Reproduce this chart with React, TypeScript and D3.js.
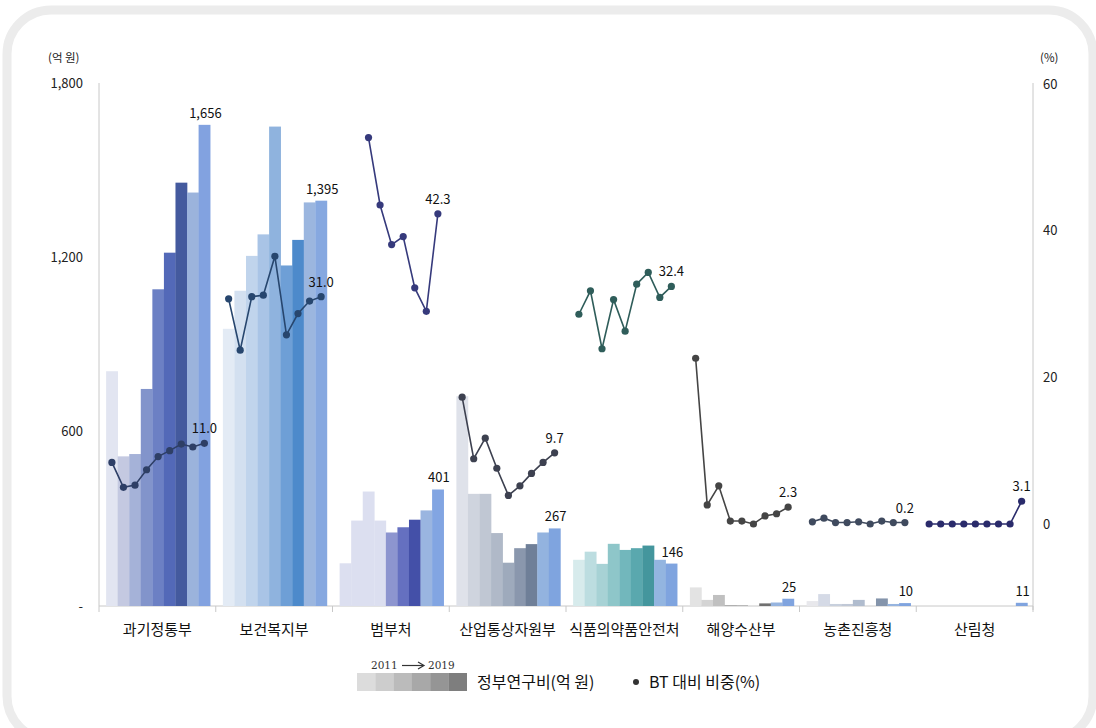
import * as d3 from "d3";

const years = ["2011", "2012", "2013", "2014", "2015", "2016", "2017", "2018", "2019"];

const categories = [
  "과기정통부",
  "보건복지부",
  "범부처",
  "산업통상자원부",
  "식품의약품안전처",
  "해양수산부",
  "농촌진흥청",
  "산림청",
];

// 정부연구비 (억 원), 2011 -> 2019
const fundMSIT = [808, 515, 523, 747, 1090, 1216, 1457, 1423, 1656];
const fundMOHW = [954, 1085, 1205, 1279, 1650, 1172, 1260, 1389, 1395];
const fundJoint = [147, 294, 394, 294, 253, 271, 297, 329, 401];
const fundMOTIE = [722, 386, 386, 251, 149, 199, 213, 253, 267];
const fundMFDS = [159, 187, 145, 214, 193, 199, 208, 159, 146];
const fundMOF = [64, 21, 38, 3, 2, 0, 9, 12, 25];
const fundRDA = [17, 41, 7, 7, 21, 0, 26, 7, 10];
const fundKFS = [0, 0, 0, 0, 0, 0, 0, 0, 11];

// BT 대비 비중 (%)
const shareMSIT = [8.4, 5.0, 5.3, 7.4, 9.2, 10.0, 10.9, 10.5, 11.0];
const shareMOHW = [30.7, 23.7, 31.0, 31.2, 36.5, 25.8, 28.7, 30.4, 31.0];
const shareJoint = [null, null, 52.7, 43.5, 38.1, 39.2, 32.2, 29.0, 42.3];
const shareMOTIE = [17.3, 8.9, 11.7, 7.6, 3.9, 5.2, 6.9, 8.4, 9.7];
const shareMFDS = [28.6, 31.8, 23.9, 30.6, 26.3, 32.7, 34.3, 30.9, 32.4];
const shareMOF = [22.6, 2.6, 5.2, 0.4, 0.4, 0.0, 1.1, 1.4, 2.3];
const shareRDA = [0.3, 0.8, 0.2, 0.2, 0.3, 0.0, 0.4, 0.2, 0.2];
const shareKFS = [0, 0, 0, 0, 0, 0, 0, 0, 3.1];

const leftTicks = [0, 600, 1200, 1800];
const rightTicks = [0, 20, 40, 60];

const funds = [fundMSIT, fundMOHW, fundJoint, fundMOTIE, fundMFDS, fundMOF, fundRDA, fundKFS];
const shares = [shareMSIT, shareMOHW, shareJoint, shareMOTIE, shareMFDS, shareMOF, shareRDA, shareKFS];

const barColors = [
  ["#e2e5f1", "#c4c9e1", "#a5b2d8", "#8294cb", "#6c80c4", "#5369b8", "#445a9e", "#9bb3dc", "#82a2e0"],
  ["#e3ebf5", "#d3e0f0", "#c0d4ec", "#a9c4e6", "#8fb3de", "#6e9fd6", "#4d8acb", "#9bb6df", "#86a8e0"],
  ["#dcdff0", "#dcdff0", "#dcdff0", "#dcdff0", "#8d95cf", "#6570c0", "#4450a8", "#9ab5e0", "#82a5e2"],
  ["#dfe2ea", "#cfd4de", "#c0c7d3", "#b0b9c8", "#9eaabc", "#8a97ad", "#6f7f98", "#93b3df", "#7fa4df"],
  ["#d7ebec", "#bcdde0", "#a7d2d5", "#8ec6c9", "#72b7bc", "#5aa8ae", "#44969d", "#93b5e0", "#7fa4df"],
  ["#e3e3e3", "#d4d4d4", "#c0c0c0", "#a8a8a8", "#999999", "#888888", "#707070", "#96b4df", "#80a4df"],
  ["#e8e8ec", "#d5dae6", "#c8d0dd", "#c0c8d6", "#b0bcce", "#a0aec4", "#8494ab", "#96b4df", "#80a4df"],
  ["#e8e8ec", "#d5dae6", "#c8d0dd", "#c0c8d6", "#b0bcce", "#a0aec4", "#8494ab", "#96b4df", "#80a4df"],
];
const lineColors = ["#2e3f66", "#27466e", "#363a7c", "#3d4150", "#2f5d5a", "#454545", "#3f4a5e", "#2a2b6b"];
const legendGreys = ["#dcdcdc", "#cdcdcd", "#bbbbbb", "#a8a8a8", "#959595", "#7e7e7e"];

const FONT = "'Noto Sans CJK KR', 'Noto Sans', sans-serif";

export default function App() {
  const W = 1096;
  const H = 728;
  const x0 = 99;
  const x1 = 1033;
  const yTop = 83;
  const yBase = 606;

  const xCat = d3.scaleBand<string>().domain(categories).range([x0, x1]).padding(0);
  const xYear = d3
    .scaleBand<string>()
    .domain(years)
    .range([0, xCat.bandwidth()])
    .paddingInner(0)
    .paddingOuter(0.55)
    .align(0.56);
  const yLeft = d3.scaleLinear().domain([0, 1800]).range([yBase, yTop]);
  const yRight = d3.scaleLinear().domain([0, 60]).range([524, 84]);

  const line = d3
    .line<{ x: number; v: number | null }>()
    .defined((d) => d.v != null)
    .x((d) => d.x)
    .y((d) => yRight(d.v as number));

  const fmtInt = d3.format(",");
  const fmtPct = d3.format(".1f");
  const cx = (ci: number, yi: number) =>
    (xCat(categories[ci]) as number) + (xYear(years[yi]) as number) + xYear.bandwidth() / 2;

  return (
    <svg
      width={W}
      height={H}
      style={{ position: "absolute", left: 0, top: 0, background: "#fff" }}
      fontFamily={FONT}
    >
      <rect x={7} y={10} width={1086} height={730} rx={44} fill="#fff" stroke="#ececec" strokeWidth={9} />

      {/* axis titles */}
      <text x={48} y={62} fontSize={11.5} fill="#222">(억 원)</text>
      <text x={1040} y={62} fontSize={11.5} fill="#222">(%)</text>

      {/* axes */}
      <line x1={x0} x2={x0} y1={yTop} y2={yBase} stroke="#c8c8c8" />
      <line x1={x1} x2={x1} y1={yTop} y2={yBase + 4} stroke="#c8c8c8" />
      <line x1={x0} x2={x1} y1={yBase} y2={yBase} stroke="#c8c8c8" />
      {categories.map((c) => (
        <line key={"t" + c} x1={xCat(c)} x2={xCat(c)} y1={yBase} y2={yBase + 6} stroke="#c8c8c8" />
      ))}
      <line x1={x1} x2={x1} y1={yBase} y2={yBase + 6} stroke="#c8c8c8" />

      {leftTicks.map((t) => (
        <text key={"l" + t} x={83} y={yLeft(t)} dy="0.35em" textAnchor="end" fontSize={13} fill="#222">
          {t === 0 ? "-" : fmtInt(t)}
        </text>
      ))}
      {rightTicks.map((t) => (
        <text key={"r" + t} x={1043} y={yRight(t)} dy="0.35em" fontSize={13} fill="#222">
          {t}
        </text>
      ))}

      {/* bars */}
      {funds.map((vals, ci) =>
        vals.map((v, yi) => (
          <rect
            key={`b${ci}-${yi}`}
            x={(xCat(categories[ci]) as number) + (xYear(years[yi]) as number)}
            width={xYear.bandwidth() + 0.3}
            y={yLeft(v)}
            height={yBase - yLeft(v)}
            fill={barColors[ci][yi]}
          />
        ))
      )}

      {/* bar value labels */}
      {funds.map((vals, ci) => (
        <text
          key={"bl" + ci}
          x={cx(ci, 8) + 1}
          y={yLeft(vals[8]) - 7}
          textAnchor="middle"
          fontSize={13}
          fill="#111"
        >
          {fmtInt(vals[8])}
        </text>
      ))}

      {/* share lines */}
      {shares.map((vals, ci) => {
        const pts = vals.map((v, yi) => ({ x: cx(ci, yi), v }));
        return (
          <g key={"ln" + ci}>
            <path d={line(pts) || ""} fill="none" stroke={lineColors[ci]} strokeWidth={1.6} />
            {pts
              .filter((p) => p.v != null)
              .map((p, i) => (
                <circle key={i} cx={p.x} cy={yRight(p.v as number)} r={3.6} fill={lineColors[ci]} />
              ))}
            <text
              x={pts[8].x}
              y={yRight(pts[8].v as number) - 10}
              textAnchor="middle"
              fontSize={13}
              fill="#111"
            >
              {fmtPct(pts[8].v as number)}
            </text>
          </g>
        );
      })}

      {/* category labels */}
      {categories.map((c) => (
        <text
          key={"c" + c}
          x={(xCat(c) as number) + xCat.bandwidth() / 2}
          y={635}
          textAnchor="middle"
          fontSize={15}
          fill="#111"
        >
          {c}
        </text>
      ))}

      {/* legend */}
      <g>
        {legendGreys.map((g, i) => (
          <rect key={"lg" + i} x={357 + i * 18.3} y={673} width={18.5} height={18} fill={g} />
        ))}
        <text x={371} y={669} fontSize={10.5} fill="#333" fontFamily="'DejaVu Serif', serif">
          2011
        </text>
        <line x1={402} x2={423} y1={665.5} y2={665.5} stroke="#333" strokeWidth={1.2} />
        <path d="M418,662 L424,665.5 L418,669" fill="none" stroke="#333" strokeWidth={1.2} />
        <text x={428} y={669} fontSize={10.5} fill="#333" fontFamily="'DejaVu Serif', serif">
          2019
        </text>
        <text x={477} y={688} fontSize={16} fill="#111">
          정부연구비(억 원)
        </text>
        <circle cx={636} cy={682} r={3} fill="#333" />
        <text x={649} y={688} fontSize={16} fill="#111">
          BT 대비 비중(%)
        </text>
      </g>
    </svg>
  );
}
